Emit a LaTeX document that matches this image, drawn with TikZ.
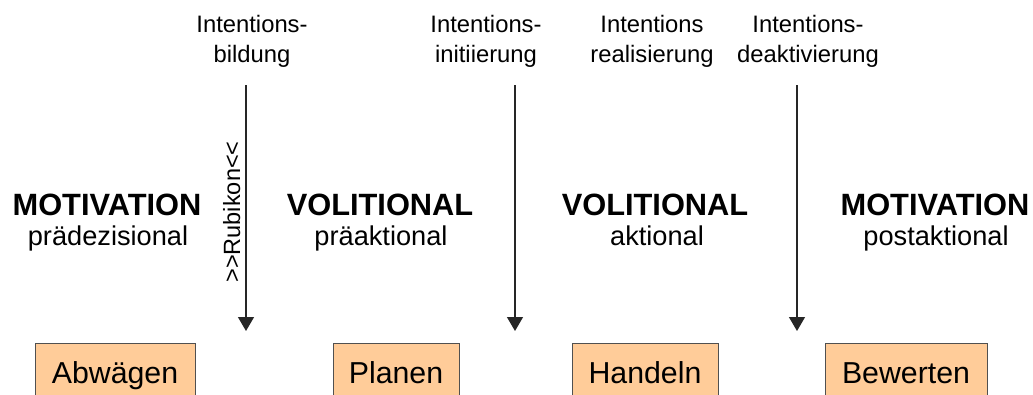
\documentclass[tikz,border=0pt]{standalone}
\usepackage{fontspec}
\setmainfont{Liberation Sans}
\usetikzlibrary{arrows.meta}
\definecolor{peach}{HTML}{FFCC99}
\definecolor{boxline}{HTML}{505050}
\begin{document}
\begin{tikzpicture}[x=1pt,y=-1pt,
  toplabel/.style={anchor=base,font=\fontsize{23.8}{28}\selectfont,inner sep=0pt},
  phase/.style={anchor=base,font=\fontsize{30.8}{36}\selectfont\bfseries,inner sep=0pt},
  subphase/.style={anchor=base,font=\fontsize{27.2}{32}\selectfont,inner sep=0pt},
  stagebox/.style={draw=boxline,line width=0.8pt,fill=peach,anchor=north,minimum height=60pt,
    text height=21pt,text depth=0pt,inner sep=0pt,font=\fontsize{30.3}{36}\selectfont},
  transition/.style={line width=1.3pt,draw=black!85,-{Triangle[width=16pt,length=14pt]}}
]
\useasboundingbox (0,0) rectangle (1033,394);

% top labels
\node[toplabel] (t1a) at (252,32) {Intentions-};
\node[toplabel] (t1b) at (252,62) {bildung};
\node[toplabel] (t2a) at (486,32) {Intentions-};
\node[toplabel] (t2b) at (486,62) {initiierung};
\node[toplabel] (t3a) at (652,32) {Intentions};
\node[toplabel] (t3b) at (652,62) {realisierung};
\node[toplabel] (t4a) at (808,32) {Intentions-};
\node[toplabel] (t4b) at (808,62) {deaktivierung};

% arrows
\coordinate (a1s) at (246,85); \coordinate (a1e) at (246,331);
\coordinate (a2s) at (515,85); \coordinate (a2e) at (515,331);
\coordinate (a3s) at (797,85); \coordinate (a3e) at (797,331);
\draw[transition] (a1s) -- (a1e);
\draw[transition] (a2s) -- (a2e);
\draw[transition] (a3s) -- (a3e);

\node[rotate=90,anchor=base,font=\fontsize{23.5}{28}\selectfont,inner sep=0pt] (rub) at (240,212) {{>}{>}Rubikon{<}{<}};

% phases
\node[phase] (p1) at (107,215) {MOTIVATION};
\node[subphase] (s1) at (108,245) {prädezisional};
\node[phase] (p2) at (380,215) {VOLITIONAL};
\node[subphase] (s2) at (381,245) {präaktional};
\node[phase] (p3) at (655,215) {VOLITIONAL};
\node[subphase] (s3) at (657,245) {aktional};
\node[phase] (p4) at (935,215) {MOTIVATION};
\node[subphase] (s4) at (936,245) {postaktional};

% stage boxes
\node[stagebox,minimum width=160pt] (b1) at (115,343) {Abwägen};
\node[stagebox,minimum width=126pt] (b2) at (396,343) {Planen};
\node[stagebox,minimum width=146pt] (b3) at (645,343) {Handeln};
\node[stagebox,minimum width=162pt] (b4) at (906,343) {Bewerten};
\end{tikzpicture}
\end{document}
